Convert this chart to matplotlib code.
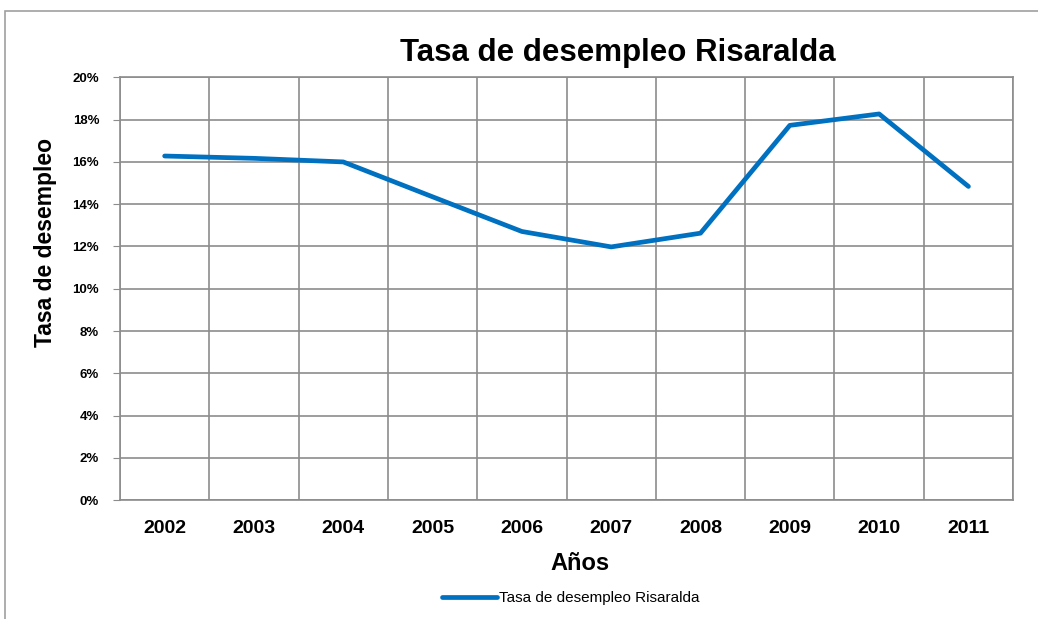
import matplotlib.pyplot as plt
from matplotlib.patches import Rectangle
from matplotlib.ticker import FixedLocator

plt.rcParams['font.family'] = ['Liberation Sans', 'DejaVu Sans']

years = ['2002', '2003', '2004', '2005', '2006', '2007', '2008', '2009', '2010', '2011']
tasa = [16.28, 16.17, 16.0, 14.35, 12.71, 11.98, 12.63, 17.73, 18.27, 14.84]
y_ticks = [0, 2, 4, 6, 8, 10, 12, 14, 16, 18, 20]


def main():
	fig = plt.figure(figsize=(10.38, 6.19), dpi=100)
	ax = fig.add_axes([0.1156, 0.192, 0.8604, 0.683])

	# chart border (Excel style)
	fig.patches.append(Rectangle((0.005, -0.1), 1.2, 1.082, transform=fig.transFigure,
		fill=False, edgecolor='#a0a0a0', linewidth=1.2))

	x = list(range(len(years)))
	ax.plot(x, tasa, color='#0070C0', linewidth=3.4, solid_capstyle='round',
		solid_joinstyle='round', label='Tasa de desempleo Risaralda')

	ax.set_xlim(-0.5, len(years) - 0.5)
	ax.set_ylim(0, 20)
	ax.set_xticks(x)
	ax.set_xticklabels(years, fontsize=14, fontweight='bold')
	ax.xaxis.set_minor_locator(FixedLocator([i - 0.5 for i in range(len(years) + 1)]))
	ax.set_yticks(y_ticks)
	ax.set_yticklabels([str(v) + '%' for v in y_ticks], fontsize=9.5, fontweight='bold')
	ax.tick_params(axis='x', which='major', length=0, pad=14)
	ax.tick_params(axis='x', which='minor', length=0)
	ax.tick_params(axis='y', length=5, color='#8c8c8c', pad=10)

	ax.grid(True, axis='y', color='#8c8c8c', linewidth=1.2)
	ax.grid(True, axis='x', which='minor', color='#8c8c8c', linewidth=1.2)
	for s in ax.spines.values():
		s.set_color('#8c8c8c')
		s.set_linewidth(1.2)

	ax.set_title('Tasa de desempleo Risaralda', fontsize=22.5, fontweight='bold', pad=12, x=0.557)
	ax.set_xlabel('Años', fontsize=17, fontweight='bold')
	ax.xaxis.set_label_coords(0.515, -0.123)
	ax.set_ylabel('Tasa de desempleo', fontsize=16.5, fontweight='bold')
	ax.yaxis.set_label_coords(-0.071, 0.61)

	fig.legend(loc='lower center', bbox_to_anchor=(0.55, 0.0), frameon=False,
		fontsize=11, handlelength=3.6, handletextpad=0.1)

	fig.savefig('out.png', dpi=100)


if __name__ == "__main__":
	main()
